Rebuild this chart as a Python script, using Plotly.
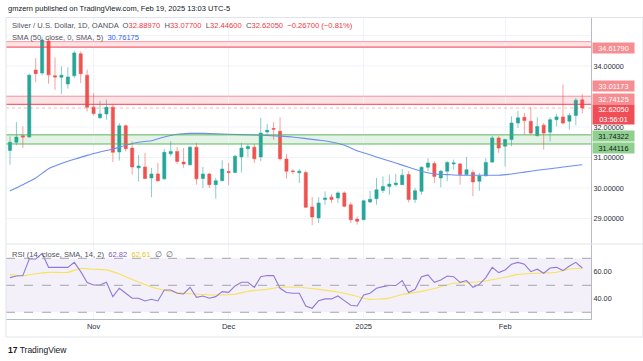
import plotly.graph_objects as go

# ---------------- data ----------------
bar_index = list(range(90))
opens = [31.23, 31.50, 31.71, 31.67, 33.87, 33.77, 34.82, 33.68, 33.63, 33.41,
         33.68, 34.40, 33.70, 32.65, 32.30, 32.43, 32.65, 31.18, 32.04, 31.31,
         30.66, 30.69, 30.33, 30.46, 30.30, 31.12, 31.20, 30.85, 30.76, 31.34,
         30.31, 30.46, 30.11, 30.24, 30.54, 30.51, 31.02, 31.29, 31.34, 31.02,
         31.84, 31.95, 31.86, 30.95, 30.56, 30.50, 30.51, 29.38, 29.02, 29.62,
         29.70, 29.67, 29.84, 29.45, 28.98, 28.96, 29.54, 29.65, 29.92, 30.05,
         30.11, 30.11, 30.44, 29.62, 29.89, 30.68, 30.80, 30.33, 30.55, 30.79,
         30.79, 30.44, 30.51, 30.22, 30.40, 30.85, 31.64, 31.37, 31.59, 32.13,
         32.32, 32.19, 31.71, 32.06, 31.83, 32.24, 32.33, 32.19, 32.38, 32.8897]
highs = [31.70, 32.16, 32.02, 33.74, 34.26, 34.95, 34.92, 34.28, 33.99, 33.96,
         34.50, 34.48, 33.88, 33.11, 32.86, 32.90, 32.73, 32.13, 32.08, 31.53,
         31.08, 31.15, 30.66, 30.82, 31.28, 31.53, 31.34, 31.31, 31.37, 31.48,
         30.69, 30.49, 30.33, 30.91, 30.82, 31.09, 31.48, 31.44, 31.44, 32.30,
         32.10, 32.16, 32.32, 31.11, 30.62, 30.62, 30.57, 29.70, 29.70, 29.89,
         29.80, 29.89, 29.89, 29.53, 29.07, 29.62, 29.91, 30.33, 30.38, 30.44,
         30.46, 30.62, 30.55, 30.00, 30.71, 30.98, 30.88, 30.60, 30.88, 30.93,
         30.82, 31.02, 30.60, 30.49, 30.98, 31.71, 31.70, 31.62, 32.35, 32.53,
         32.46, 32.65, 32.32, 32.13, 32.32, 32.43, 33.39, 32.46, 32.95, 33.077]
lows = [30.76, 31.40, 31.31, 31.66, 33.47, 33.70, 33.42, 33.22, 33.08, 33.26,
        33.61, 33.44, 32.51, 32.38, 32.27, 32.24, 30.85, 30.90, 31.20, 30.44,
        30.21, 30.29, 29.70, 30.20, 30.27, 31.04, 30.79, 30.66, 30.73, 30.11,
        30.00, 30.00, 29.65, 30.22, 30.09, 30.49, 30.51, 31.01, 30.82, 30.88,
        31.75, 31.58, 30.90, 30.31, 30.45, 30.16, 29.34, 28.78, 28.85, 29.45,
        29.51, 29.51, 29.37, 28.85, 28.80, 28.94, 29.51, 29.45, 29.84, 29.78,
        30.05, 30.10, 29.53, 29.51, 29.78, 30.55, 30.16, 30.02, 30.22, 30.60,
        30.11, 30.42, 29.73, 29.91, 30.38, 30.82, 31.15, 30.71, 31.37, 31.97,
        31.75, 31.75, 31.70, 31.26, 31.53, 32.02, 32.08, 31.91, 32.06, 32.446]
closes = [31.50, 31.67, 31.67, 33.70, 33.75, 34.85, 33.71, 33.64, 33.70, 33.64,
          34.43, 33.75, 32.65, 32.44, 32.43, 32.65, 31.17, 32.04, 31.29, 30.69,
          30.72, 30.31, 30.46, 30.24, 31.17, 31.20, 30.87, 30.79, 31.34, 30.30,
          30.46, 30.11, 30.24, 30.62, 30.51, 31.04, 31.31, 31.36, 30.96, 31.80,
          31.89, 31.93, 30.96, 30.55, 30.54, 30.55, 29.37, 29.05, 29.51, 29.67,
          29.62, 29.84, 29.40, 28.96, 28.91, 29.58, 29.63, 29.94, 30.05, 30.13,
          30.16, 30.42, 29.62, 29.91, 30.68, 30.82, 30.38, 30.55, 30.84, 30.82,
          30.44, 30.60, 30.20, 30.40, 30.84, 31.64, 31.31, 31.59, 32.13, 32.30,
          32.21, 31.80, 32.02, 31.80, 32.24, 32.33, 32.13, 32.38, 32.88, 32.6205]

sma_index = [0, 2, 4, 6, 8, 10, 12, 14, 16, 18, 20, 22, 24, 26, 28, 30, 34, 38, 42, 44,
             46, 48, 50, 52, 54, 56, 58, 60, 62, 64, 66, 68, 70, 74, 76, 78, 80, 82, 84, 86, 89]
sma_values = [29.91, 30.11, 30.33, 30.63, 30.80, 30.94, 31.07, 31.18, 31.28, 31.40,
              31.50, 31.55, 31.67, 31.76, 31.79, 31.79, 31.76, 31.74, 31.70, 31.67,
              31.62, 31.57, 31.51, 31.40, 31.22, 31.09, 30.95, 30.82, 30.68, 30.55,
              30.46, 30.44, 30.42, 30.42, 30.42, 30.46, 30.52, 30.58, 30.63, 30.69, 30.76175]

rsi_values = [55.7, 56.9, 57.2, 69.5, 69.5, 73.7, 63.3, 63.3, 63.3, 63.3,
              67.0, 60.1, 52.0, 50.2, 50.2, 52.2, 41.6, 47.8, 44.1, 40.4,
              40.4, 38.4, 39.6, 38.4, 46.5, 46.5, 44.1, 43.6, 48.5, 41.1,
              42.1, 40.4, 41.6, 45.3, 44.8, 49.5, 52.2, 52.2, 48.5, 56.4,
              57.2, 57.2, 47.8, 44.6, 44.1, 44.1, 34.7, 33.0, 38.6, 39.9,
              39.9, 42.1, 38.6, 35.2, 34.7, 42.8, 44.1, 47.8, 49.0, 49.8,
              49.8, 53.5, 44.6, 47.0, 56.4, 57.7, 52.2, 54.0, 56.9, 56.4,
              52.2, 53.5, 48.5, 50.7, 55.7, 63.3, 59.4, 61.4, 65.6, 67.0,
              65.6, 60.1, 61.9, 58.9, 62.8, 63.3, 60.9, 64.3, 67.0, 62.82]

rsi_ma_index = [0, 2, 4, 6, 9, 11, 13, 15, 17, 19, 22, 24, 27, 30, 32, 35, 37, 40, 42, 45,
                48, 51, 53, 55, 56, 59, 61, 64, 66, 69, 72, 74, 77, 79, 82, 85, 87, 89]
rsi_ma_values = [58.0, 57.0, 58.6, 59.6, 59.6, 62.5, 61.9, 61.4, 58.3, 54.3, 48.8, 46.3,
                 44.1, 43.2, 42.8, 43.4, 45.6, 47.0, 48.5, 48.5, 47.0, 45.0, 43.0, 40.4,
                 39.6, 40.5, 43.2, 45.5, 47.6, 51.5, 52.3, 53.2, 55.9, 58.1, 58.9, 59.7,
                 62.1, 62.61]

month_ticks = [13, 34, 55, 77]
month_labels = ["Nov", "Dec", "2025", "Feb"]

price_ticks = [29, 30, 31, 32, 34]
grid_prices = [29, 30, 31, 32, 33, 34, 35]
rsi_ticks = [40, 60]

zone_top = (34.6179, 34.80)
zone_mid = (32.74125, 33.01173)
zone_green = (31.44116, 31.74322)
last_price = 32.6205

# ---------------- layout helpers ----------------
W, H = 643, 361
def fx(px):
    return px / W
def fy(py):
    return 1 - py / H

FONT = "Liberation Sans, Arial, sans-serif"
GRID = "#f0f3fa"
UP = "#26a69a"
DOWN = "#ef5350"

fig = go.Figure()

fig.add_trace(go.Candlestick(
    x=bar_index, open=opens, high=highs, low=lows, close=closes,
    increasing=dict(line=dict(color="rgba(38,166,154,0.55)", width=1), fillcolor=UP),
    decreasing=dict(line=dict(color="rgba(239,83,80,0.55)", width=1), fillcolor=DOWN),
    whiskerwidth=0, xaxis="x", yaxis="y", hoverinfo="skip", showlegend=False))

fig.add_trace(go.Scatter(x=sma_index, y=sma_values, mode="lines",
                         line=dict(color="#6b8ff4", width=1.1, shape="spline", smoothing=0.6),
                         xaxis="x", yaxis="y", showlegend=False, hoverinfo="skip"))

fig.add_trace(go.Scatter(x=rsi_ma_index, y=rsi_ma_values, mode="lines",
                         line=dict(color="#f9e15a", width=1.1, shape="spline", smoothing=0.6),
                         xaxis="x2", yaxis="y2", showlegend=False, hoverinfo="skip"))
fig.add_trace(go.Scatter(x=bar_index, y=rsi_values, mode="lines",
                         line=dict(color="#9179d8", width=1.1),
                         xaxis="x2", yaxis="y2", showlegend=False, hoverinfo="skip"))

xdom = [fx(6), fx(591)]
xr = [-0.62, 90.36]
price_dom = [fy(244), fy(18)]
rsi_dom = [fy(319.3), fy(244)]

fig.update_layout(
    width=W, height=H, margin=dict(l=0, r=0, t=0, b=0),
    paper_bgcolor="white", plot_bgcolor="white",
    font=dict(family=FONT, size=7.3, color="#131722"),
    showlegend=False, hovermode=False,
    xaxis=dict(domain=xdom, range=xr, anchor="y", tickvals=month_ticks,
               showticklabels=False, showgrid=True, gridcolor=GRID, zeroline=False,
               rangeslider=dict(visible=False), fixedrange=True),
    yaxis=dict(domain=price_dom, range=[28.164, 35.574], anchor="x", side="right",
               tickvals=price_ticks, ticktext=[f"{v:.5f}" for v in price_ticks],
               tickfont=dict(size=7.3, color="#2a2e39"), showgrid=False,
               zeroline=False, showline=True, linecolor="#b8bbc4", linewidth=1, ticks=""),
    xaxis2=dict(domain=xdom, range=xr, anchor="y2", tickvals=month_ticks, ticktext=month_labels,
                tickfont=dict(size=7.5, color="#2a2e39"), showgrid=True, gridcolor=GRID,
                zeroline=False, showline=True, linecolor="#b8bbc4", linewidth=1, ticks=""),
    yaxis2=dict(domain=rsi_dom, range=[24.8, 80.6], anchor="x2", side="right",
                tickvals=rsi_ticks, ticktext=[f"{v:.2f}" for v in rsi_ticks],
                tickfont=dict(size=7.3, color="#2a2e39"), showgrid=True, gridcolor=GRID,
                zeroline=False, showline=True, linecolor="#b8bbc4", linewidth=1, ticks=""),
)

shapes = []
for g in grid_prices:
    shapes.append(dict(type="line", xref="x domain", yref="y", x0=0, x1=1, y0=g, y1=g,
                       line=dict(color=GRID, width=1), layer="below"))
for lo, hi in (zone_top, zone_mid):
    shapes.append(dict(type="rect", xref="x domain", yref="y", x0=0, x1=1, y0=lo, y1=hi,
                       fillcolor="rgba(242,54,69,0.14)", line=dict(width=0), layer="below"))
    shapes.append(dict(type="line", xref="x domain", yref="y", x0=0, x1=1, y0=hi, y1=hi,
                       line=dict(color="rgba(242,54,69,0.45)", width=1)))
    shapes.append(dict(type="line", xref="x domain", yref="y", x0=0, x1=1, y0=lo, y1=lo,
                       line=dict(color="rgba(242,54,69,0.75)", width=1.3)))
lo, hi = zone_green
shapes.append(dict(type="rect", xref="x domain", yref="y", x0=0, x1=1, y0=lo, y1=hi,
                   fillcolor="rgba(76,175,80,0.15)", line=dict(width=0), layer="below"))
for v in (lo, hi):
    shapes.append(dict(type="line", xref="x domain", yref="y", x0=0, x1=1, y0=v, y1=v,
                       line=dict(color="rgba(76,175,80,0.6)", width=1.5)))
shapes.append(dict(type="line", xref="x domain", yref="y", x0=0, x1=1, y0=last_price, y1=last_price,
                   line=dict(color="rgba(242,54,69,0.35)", width=1, dash="dot")))
shapes.append(dict(type="rect", xref="x2 domain", yref="y2", x0=0, x1=1, y0=30, y1=70,
                   fillcolor="rgba(126,87,194,0.09)", line=dict(width=0), layer="below"))
for v in (30, 50, 70):
    shapes.append(dict(type="line", xref="x2 domain", yref="y2", x0=0, x1=1, y0=v, y1=v,
                       line=dict(color="#a3a6af", width=1, dash="dash")))
shapes.append(dict(type="rect", xref="paper", yref="paper", x0=fx(6), x1=fx(643), y0=fy(337), y1=fy(17.5),
                   line=dict(color="#e0e3eb", width=1)))
shapes.append(dict(type="line", xref="paper", yref="paper", x0=fx(6), x1=fx(643), y0=fy(244), y1=fy(244),
                   line=dict(color="#e0e3eb", width=1)))
fig.update_layout(shapes=shapes)

ann = []
def label(yv, text, bg, fg, yshift=0, yanchor="middle", h=10):
    ann.append(dict(xref="paper", yref="y", x=fx(591.5), y=yv, xanchor="left", yanchor=yanchor,
                    text=text, showarrow=False, bgcolor=bg, font=dict(size=7.3, color=fg, family=FONT),
                    width=41, height=h, borderpad=0, yshift=yshift, align="center", valign="middle"))

label(zone_top[0], "34.61790", "#f58d92", "white", yshift=-1)
label(zone_mid[1], "33.01173", "#f58d92", "white", yshift=10)
label(zone_mid[0], "32.74125", "#f58d92", "white", yshift=5.5)
label(last_price, "32.62050<br>03:56:01", "#f04e57", "white", yshift=4, yanchor="top", h=19)
label(zone_green[1], "31.74322", "#8fd08f", "#131722", yshift=-1.5)
label(zone_green[0], "31.44116", "#8fd08f", "#131722", yshift=-3.5)

def text(x, y, t, size=8, color="#131722"):
    ann.append(dict(xref="paper", yref="paper", x=fx(x), y=fy(y), xanchor="left", yanchor="middle",
                    text=t, showarrow=False, font=dict(size=size, color=color, family=FONT)))

RED = "#f23645"
text(6, 8, "gmzern published on TradingView.com, Feb 19, 2025 13:03 UTC-5", size=7.5)
text(10, 25, "Silver / U.S. Dollar, 1D, OANDA  O<span style='color:%s'>32.88970</span>  H<span style='color:%s'>33.07700</span>  "
             "L<span style='color:%s'>32.44600</span>  C<span style='color:%s'>32.62050</span>  "
             "<span style='color:%s'>−0.26700 (−0.81%%)</span>" % (RED, RED, RED, RED, RED), size=7.6, color="#50535e")
text(10, 37, "SMA (50, close, 0, SMA, 5)  <span style='color:#2962ff'>30.76175</span>", size=7.6, color="#50535e")
text(10, 254, "RSI (14, close, SMA, 14, 2)  <span style='color:#7e57c2'>62.82</span>  "
              "<span style='color:#e8c520'>62.61</span>  ∅  ∅", size=7.6, color="#50535e")
text(6, 350, "<b>17</b> TradingView", size=8.5)
fig.update_layout(annotations=ann)

fig.write_html("out.html", config={"displayModeBar": False, "staticPlot": True})
with open("out.html", encoding="utf-8") as f:
    page = f.read()
page = page.replace("<body>", '<body style="margin:0;padding:0;overflow:hidden">', 1)
with open("out.html", "w", encoding="utf-8") as f:
    f.write(page)
